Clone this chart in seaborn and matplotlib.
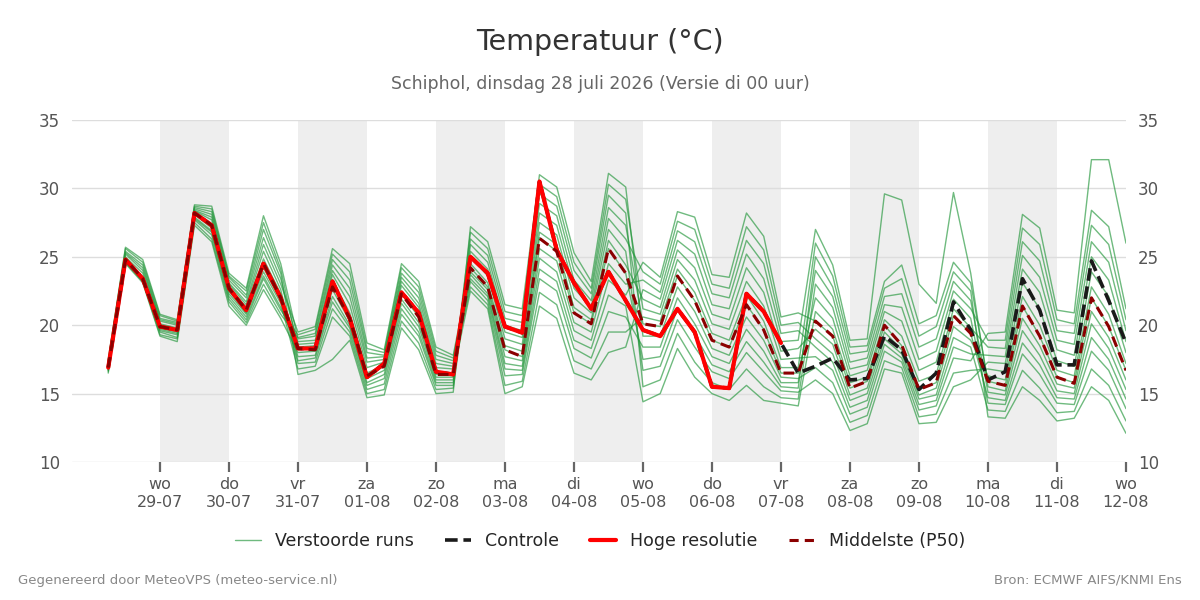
import numpy as np
import pandas as pd
import matplotlib
matplotlib.use("Agg")
import matplotlib.pyplot as plt
from matplotlib.lines import Line2D
import seaborn as sns

# ---------------- texts ----------------
title = "Temperatuur (°C)"
subtitle = "Schiphol, dinsdag 28 juli 2026 (Versie di 00 uur)"
footer_left = "Gegenereerd door MeteoVPS (meteo-service.nl)"
footer_right = "Bron: ECMWF AIFS/KNMI Ens"
legend_labels = ["Verstoorde runs", "Controle", "Hoge resolutie", "Middelste (P50)"]

# ---------------- time axis (6-hourly from 28-07 06 UTC) ----------------
start_time = "2026-07-28 06:00"
n_steps = 60

# ---------------- data (°C) ----------------
hires = [16.9, 24.8, 23.4, 19.9, 19.65, 28.2, 27.3, 22.7, 21.1, 24.5, 22.0,
         18.3, 18.3, 23.2, 20.5, 16.2, 17.2, 22.4, 20.9, 16.6, 16.4,
         25.0, 23.8, 19.9, 19.45, 30.5, 25.5, 23.1, 21.2, 23.9, 21.8,
         19.65, 19.2, 21.2, 19.5, 15.5, 15.4, 22.3, 21.0, 18.7]

control = [16.9, 24.8, 23.4, 19.9, 19.65, 28.2, 27.3, 22.7, 21.1, 24.5, 22.0,
           18.3, 18.3, 23.2, 20.5, 16.2, 17.2, 22.4, 20.9, 16.6, 16.4,
           25.0, 23.8, 19.9, 19.45, 30.5, 25.5, 23.1, 21.2, 23.9, 21.8,
           19.65, 19.2, 21.2, 19.5, 15.5, 15.4, 22.3, 21.0, 18.7, 16.5,
           17.0, 17.6, 16.0, 16.1, 19.2, 18.2, 15.3, 16.5, 21.7, 19.65,
           16.0, 16.6, 23.4, 21.1, 17.1, 17.1, 24.7, 21.8, 18.7]

median = [16.9, 24.8, 23.4, 19.9, 19.65, 28.2, 27.3, 22.7, 21.1, 24.5, 22.0,
          18.3, 18.2, 22.8, 20.5, 16.3, 17.0, 22.3, 20.6, 16.4, 16.4,
          24.2, 22.8, 18.2, 17.7, 26.35, 25.4, 20.9, 20.1, 25.6, 23.8,
          20.1, 19.9, 23.6, 21.8, 18.9, 18.4, 21.5, 19.65, 16.5, 16.5,
          20.3, 19.2, 15.4, 15.9, 20.0, 18.55, 15.3, 15.8, 20.7, 19.4,
          15.9, 15.6, 21.4, 19.2, 16.2, 15.75, 22.0, 19.9, 16.7]

member_01 = [16.9, 24.8, 23.4, 19.9, 19.6, 28.2, 27.3, 22.7, 21.1, 24.5, 22.0,
             17.2, 17.3, 21.2, 19.5, 15.3, 15.7, 20.8, 19.2, 15.6, 15.6,
             25.4, 24.1, 19.5, 19.1, 28.2, 27.3, 22.7, 21.3, 27.8, 26.3,
             23.9, 23.0, 27.6, 27.0, 23.0, 22.7, 27.2, 25.5, 20.0, 20.2,
             19.0, 17.9, 14.5, 15.0, 19.0, 17.9, 14.6, 14.9, 19.1, 18.4,
             13.8, 13.7, 16.7, 15.4, 13.6, 13.7, 16.8, 15.6, 13.0]
member_02 = [17.5, 25.7, 24.8, 20.8, 20.4, 28.8, 28.7, 23.8, 22.7, 28.0, 24.5,
             19.0, 19.2, 24.4, 22.7, 17.6, 17.7, 23.5, 22.0, 17.5, 17.2,
             23.4, 22.1, 16.8, 16.7, 24.1, 23.2, 18.9, 18.3, 22.2, 21.4,
             14.4, 15.0, 18.3, 16.2, 15.0, 14.5, 15.6, 14.5, 14.3, 14.1,
             21.0, 19.7, 15.8, 16.2, 20.4, 19.2, 15.9, 16.4, 21.2, 19.8,
             18.4, 18.3, 26.1, 24.7, 19.6, 19.4, 27.3, 25.9, 20.4]
member_03 = [16.5, 24.5, 23.1, 19.2, 18.8, 27.3, 26.1, 21.4, 20.0, 22.6, 20.5,
             18.0, 18.1, 22.6, 20.3, 16.1, 16.7, 21.9, 20.2, 16.2, 16.2,
             26.8, 25.6, 21.0, 20.7, 30.3, 29.4, 24.6, 22.7, 30.3, 29.2,
             21.2, 20.8, 24.8, 23.3, 20.1, 19.7, 23.2, 21.4, 17.5, 17.6,
             17.7, 16.7, 13.5, 14.0, 18.1, 17.3, 13.8, 14.1, 17.6, 17.4,
             19.4, 19.5, 28.1, 27.1, 21.1, 20.9, 32.1, 32.1, 26.0]
member_04 = [17.1, 25.2, 24.0, 20.3, 20.0, 28.4, 27.9, 23.1, 21.7, 25.9, 23.0,
             19.5, 19.9, 25.6, 24.5, 18.7, 18.2, 24.5, 23.2, 18.4, 17.8,
             24.2, 22.8, 18.2, 17.7, 26.4, 25.4, 20.9, 20.1, 25.6, 23.8,
             17.5, 17.7, 21.2, 19.3, 17.1, 16.6, 18.8, 17.3, 15.5, 15.4,
             25.0, 22.8, 17.9, 18.1, 22.7, 23.4, 19.2, 19.9, 23.9, 22.5,
             13.3, 13.2, 15.5, 14.5, 13.0, 13.2, 15.5, 14.5, 12.1]
member_05 = [16.7, 24.7, 23.3, 19.6, 19.3, 27.8, 26.8, 22.1, 20.6, 23.6, 21.3,
             18.4, 18.5, 23.3, 20.9, 16.5, 17.1, 22.5, 20.9, 16.6, 16.5,
             22.5, 21.2, 15.0, 15.5, 21.4, 20.5, 16.5, 16.0, 18.0, 18.4,
             22.6, 21.9, 26.2, 25.2, 21.5, 21.2, 25.2, 23.4, 18.8, 18.9,
             27.0, 24.4, 18.9, 19.0, 29.6, 29.15, 23.0, 21.6, 29.7, 23.8,
             15.5, 15.2, 20.5, 18.5, 15.7, 15.4, 21.0, 19.1, 16.0]
member_06 = [17.3, 25.4, 24.4, 20.5, 20.2, 28.6, 28.3, 23.5, 22.2, 27.0, 23.8,
             16.4, 16.7, 17.5, 18.9, 14.7, 14.9, 19.8, 18.2, 15.0, 15.1,
             27.2, 26.1, 21.5, 21.2, 31.0, 30.1, 25.3, 23.2, 31.1, 30.1,
             19.2, 19.2, 22.8, 21.0, 18.3, 17.8, 20.6, 18.9, 16.2, 16.1,
             16.9, 15.8, 12.9, 13.4, 17.4, 16.9, 13.3, 13.5, 16.5, 16.7,
             16.8, 16.6, 23.1, 21.2, 17.4, 17.0, 23.9, 22.1, 18.0]
member_07 = [16.7, 24.6, 23.2, 19.5, 19.1, 27.7, 26.6, 21.9, 20.4, 23.4, 21.1,
             19.3, 19.7, 25.2, 23.9, 18.3, 18.0, 24.2, 22.8, 18.1, 17.6,
             23.7, 22.3, 17.2, 17.0, 24.9, 23.9, 19.6, 18.9, 23.3, 22.2,
             24.6, 23.5, 28.3, 27.9, 23.7, 23.5, 28.2, 26.5, 20.6, 20.9,
             20.3, 19.2, 15.4, 15.9, 20.0, 18.5, 15.3, 15.8, 20.7, 19.4,
             14.7, 14.5, 18.7, 17.1, 14.7, 14.6, 19.1, 17.5, 14.6]
member_08 = [17.1, 25.0, 23.8, 20.1, 19.8, 28.35, 27.7, 23.0, 21.5, 25.4, 22.6,
             17.4, 17.6, 21.7, 19.8, 15.6, 16.1, 21.2, 19.5, 15.8, 15.8,
             26.3, 25.1, 20.5, 20.2, 29.6, 28.7, 24.0, 22.3, 29.5, 28.2,
             15.5, 16.0, 19.4, 17.3, 15.8, 15.3, 16.8, 15.5, 14.7, 14.6,
             23.0, 21.3, 16.8, 17.1, 21.5, 21.3, 17.5, 18.1, 22.5, 21.2,
             18.9, 18.9, 27.1, 25.9, 20.4, 20.1, 28.4, 27.2, 21.2]
member_09 = [16.8, 24.8, 23.4, 19.8, 19.5, 28.1, 27.1, 22.5, 20.9, 24.2, 21.8,
             18.8, 18.9, 24.0, 22.1, 17.3, 17.5, 23.2, 21.6, 17.2, 17.0,
             22.8, 21.5, 15.6, 15.9, 22.4, 21.5, 17.4, 16.8, 19.5, 19.5,
             20.6, 20.3, 24.1, 22.4, 19.4, 18.9, 22.2, 20.3, 16.9, 16.9,
             26.0, 23.6, 18.4, 18.5, 23.2, 24.4, 20.1, 20.7, 24.6, 23.1,
             15.9, 15.6, 21.4, 19.2, 16.2, 15.8, 22.0, 19.9, 16.7]
member_10 = [17.4, 25.6, 24.6, 20.7, 20.3, 28.7, 28.5, 23.6, 22.5, 27.5, 24.1,
             18.3, 18.3, 23.0, 20.5, 16.3, 17.0, 22.3, 20.6, 16.4, 16.4,
             25.0, 23.6, 19.0, 18.6, 27.5, 26.6, 22.0, 20.9, 27.0, 25.4,
             16.7, 17.0, 20.4, 18.4, 16.6, 16.1, 18.0, 16.6, 15.2, 15.1,
             16.0, 15.0, 12.3, 12.8, 16.8, 16.5, 12.8, 12.9, 15.5, 16.0,
             17.3, 17.2, 24.1, 22.4, 18.2, 17.8, 25.0, 23.3, 18.8]
member_11 = [16.6, 24.6, 23.2, 19.3, 19.0, 27.5, 26.3, 21.7, 20.2, 23.0, 20.8,
             19.1, 19.4, 24.8, 23.3, 18.0, 17.8, 23.8, 22.4, 17.8, 17.4,
             23.9, 22.6, 17.7, 17.4, 25.6, 24.7, 20.2, 19.5, 24.5, 23.0,
             23.3, 22.4, 26.9, 26.1, 22.3, 22.0, 26.2, 24.5, 19.4, 19.6,
             18.4, 17.3, 14.0, 14.5, 18.6, 17.6, 14.2, 14.5, 18.4, 17.9,
             17.8, 17.7, 25.1, 23.5, 18.9, 18.6, 26.1, 24.6, 19.6]
member_12 = [17.0, 24.9, 23.5, 20.0, 19.7, 28.3, 27.4, 22.8, 21.3, 24.85, 22.3,
             17.7, 17.8, 22.1, 20.0, 15.8, 16.4, 21.6, 19.9, 16.0, 16.0,
             25.9, 24.6, 20.0, 19.6, 28.9, 28.0, 23.3, 21.8, 28.6, 27.3,
             20.1, 19.9, 23.6, 21.8, 18.9, 18.4, 21.5, 19.7, 16.5, 16.5,
             22.0, 20.5, 16.3, 16.7, 21.0, 20.3, 16.7, 17.3, 21.9, 20.5,
             14.3, 14.2, 17.9, 16.4, 14.3, 14.2, 18.1, 16.7, 13.9]
member_13 = [16.8, 24.7, 23.3, 19.7, 19.4, 27.9, 26.9, 22.3, 20.8, 23.9, 21.6,
             16.8, 17.0, 20.6, 19.2, 15.0, 15.3, 20.3, 18.7, 15.3, 15.4,
             24.5, 23.1, 18.5, 18.1, 26.8, 25.9, 21.3, 20.4, 26.2, 24.4,
             21.9, 21.3, 25.5, 24.2, 20.8, 20.4, 24.2, 22.4, 18.1, 18.3,
             19.7, 18.6, 14.9, 15.4, 19.5, 18.2, 14.9, 15.4, 19.9, 18.9,
             16.3, 16.0, 22.1, 20.0, 16.7, 16.3, 22.8, 20.8, 17.2]
member_14 = [17.2, 25.3, 24.2, 20.4, 20.1, 28.5, 28.1, 23.3, 22.0, 26.4, 23.4,
             18.6, 18.7, 23.7, 21.5, 16.9, 17.3, 22.9, 21.3, 16.9, 16.8,
             23.2, 21.8, 16.3, 16.4, 23.4, 22.5, 18.3, 17.6, 21.0, 20.6,
             18.4, 18.4, 22.0, 20.1, 17.7, 17.2, 19.7, 18.1, 15.8, 15.8,
             24.0, 22.1, 17.3, 17.6, 22.1, 22.3, 18.4, 19.0, 23.2, 21.8,
             15.1, 14.9, 19.6, 17.8, 15.2, 15.0, 20.1, 18.3, 15.3]

members = [member_01, member_02, member_03, member_04, member_05, member_06, member_07,
           member_08, member_09, member_10, member_11, member_12, member_13, member_14]

day_ticks = ["2026-07-29", "2026-07-30", "2026-07-31", "2026-08-01", "2026-08-02",
             "2026-08-03", "2026-08-04", "2026-08-05", "2026-08-06", "2026-08-07",
             "2026-08-08", "2026-08-09", "2026-08-10", "2026-08-11", "2026-08-12"]
day_labels = ["wo\n29-07", "do\n30-07", "vr\n31-07", "za\n01-08", "zo\n02-08",
              "ma\n03-08", "di\n04-08", "wo\n05-08", "do\n06-08", "vr\n07-08",
              "za\n08-08", "zo\n09-08", "ma\n10-08", "di\n11-08", "wo\n12-08"]
shaded_days = ["2026-07-29", "2026-07-31", "2026-08-02", "2026-08-04",
               "2026-08-06", "2026-08-08", "2026-08-10"]
y_ticks = [10, 15, 20, 25, 30, 35]

# ---------------- styling ----------------
sns.set_style("white")
plt.rcParams["font.family"] = ["DejaVu Sans"]

MEMBER_C = "#22963a"
CONTROL_C = "#1a1a1a"
HIRES_C = "#ff0000"
MEDIAN_C = "#8b0000"

times = pd.date_range(start_time, periods=n_steps, freq="6h")

ens = pd.DataFrame({
    "time": np.tile(times, len(members)),
    "temp": np.concatenate([np.asarray(m, dtype=float) for m in members]),
    "run": np.repeat(np.arange(len(members)), n_steps),
})

fig = plt.figure(figsize=(12, 6), dpi=100)
ax = fig.add_axes([0.06, 0.23, 0.8783, 0.57])

for d in shaded_days:
    d0 = pd.Timestamp(d)
    ax.axvspan(d0, d0 + pd.Timedelta(days=1), color="#eeeeee", lw=0, zorder=0)

sns.lineplot(data=ens, x="time", y="temp", units="run", estimator=None,
             color=MEMBER_C, lw=1.0, alpha=0.65, ax=ax, legend=False, zorder=2)
sns.lineplot(x=times, y=control, color=CONTROL_C, lw=2.6,
             linestyle=(0, (3.5, 1.6)), ax=ax, zorder=3)
sns.lineplot(x=times[:len(hires)], y=hires, color=HIRES_C, lw=3.0, ax=ax, zorder=4)
sns.lineplot(x=times, y=median, color=MEDIAN_C, lw=2.2,
             linestyle=(0, (3.5, 2.0)), ax=ax, zorder=5)

ax.set_xlim(pd.Timestamp(day_ticks[0]) - pd.Timedelta(hours=30.6), pd.Timestamp(day_ticks[-1]))
ax.set_ylim(10, 35)
ax.set_yticks(y_ticks)
ax.set_xticks(pd.to_datetime(day_ticks))
ax.set_xticklabels(day_labels, linespacing=1.25)
ax.set_xlabel("")
ax.set_ylabel("")

ax.yaxis.grid(True, color="#dddddd", lw=1, zorder=1)
ax.xaxis.grid(False)
for s in ax.spines.values():
    s.set_visible(False)

ax.tick_params(axis="y", left=False, right=False, labelleft=True, labelright=True,
               labelsize=12, labelcolor="#555555", pad=5)
ax.tick_params(axis="x", bottom=True, length=7, width=1.6, color="#666666",
               labelsize=11.5, labelcolor="#555555", pad=4)

fig.text(0.5, 0.93, title, ha="center", va="center", fontsize=20.5, color="#333333")
fig.text(0.5, 0.86, subtitle, ha="center", va="center", fontsize=12.5, color="#666666")
fig.text(0.015, 0.033, footer_left, ha="left", va="center", fontsize=9.5, color="#888888")
fig.text(0.985, 0.033, footer_right, ha="right", va="center", fontsize=9.5, color="#888888")

handles = [
    Line2D([], [], color=MEMBER_C, lw=1.0, alpha=0.65),
    Line2D([], [], color=CONTROL_C, lw=2.6, linestyle=(0, (3.5, 1.6))),
    Line2D([], [], color=HIRES_C, lw=3.0),
    Line2D([], [], color=MEDIAN_C, lw=2.2, linestyle=(0, (3.0, 2.0))),
]
fig.legend(handles, legend_labels, loc="center", bbox_to_anchor=(0.5, 0.098), ncol=4,
           frameon=False, fontsize=12.5, handlelength=1.5, handletextpad=0.8,
           columnspacing=1.8)

fig.savefig("out.png", dpi=100)
